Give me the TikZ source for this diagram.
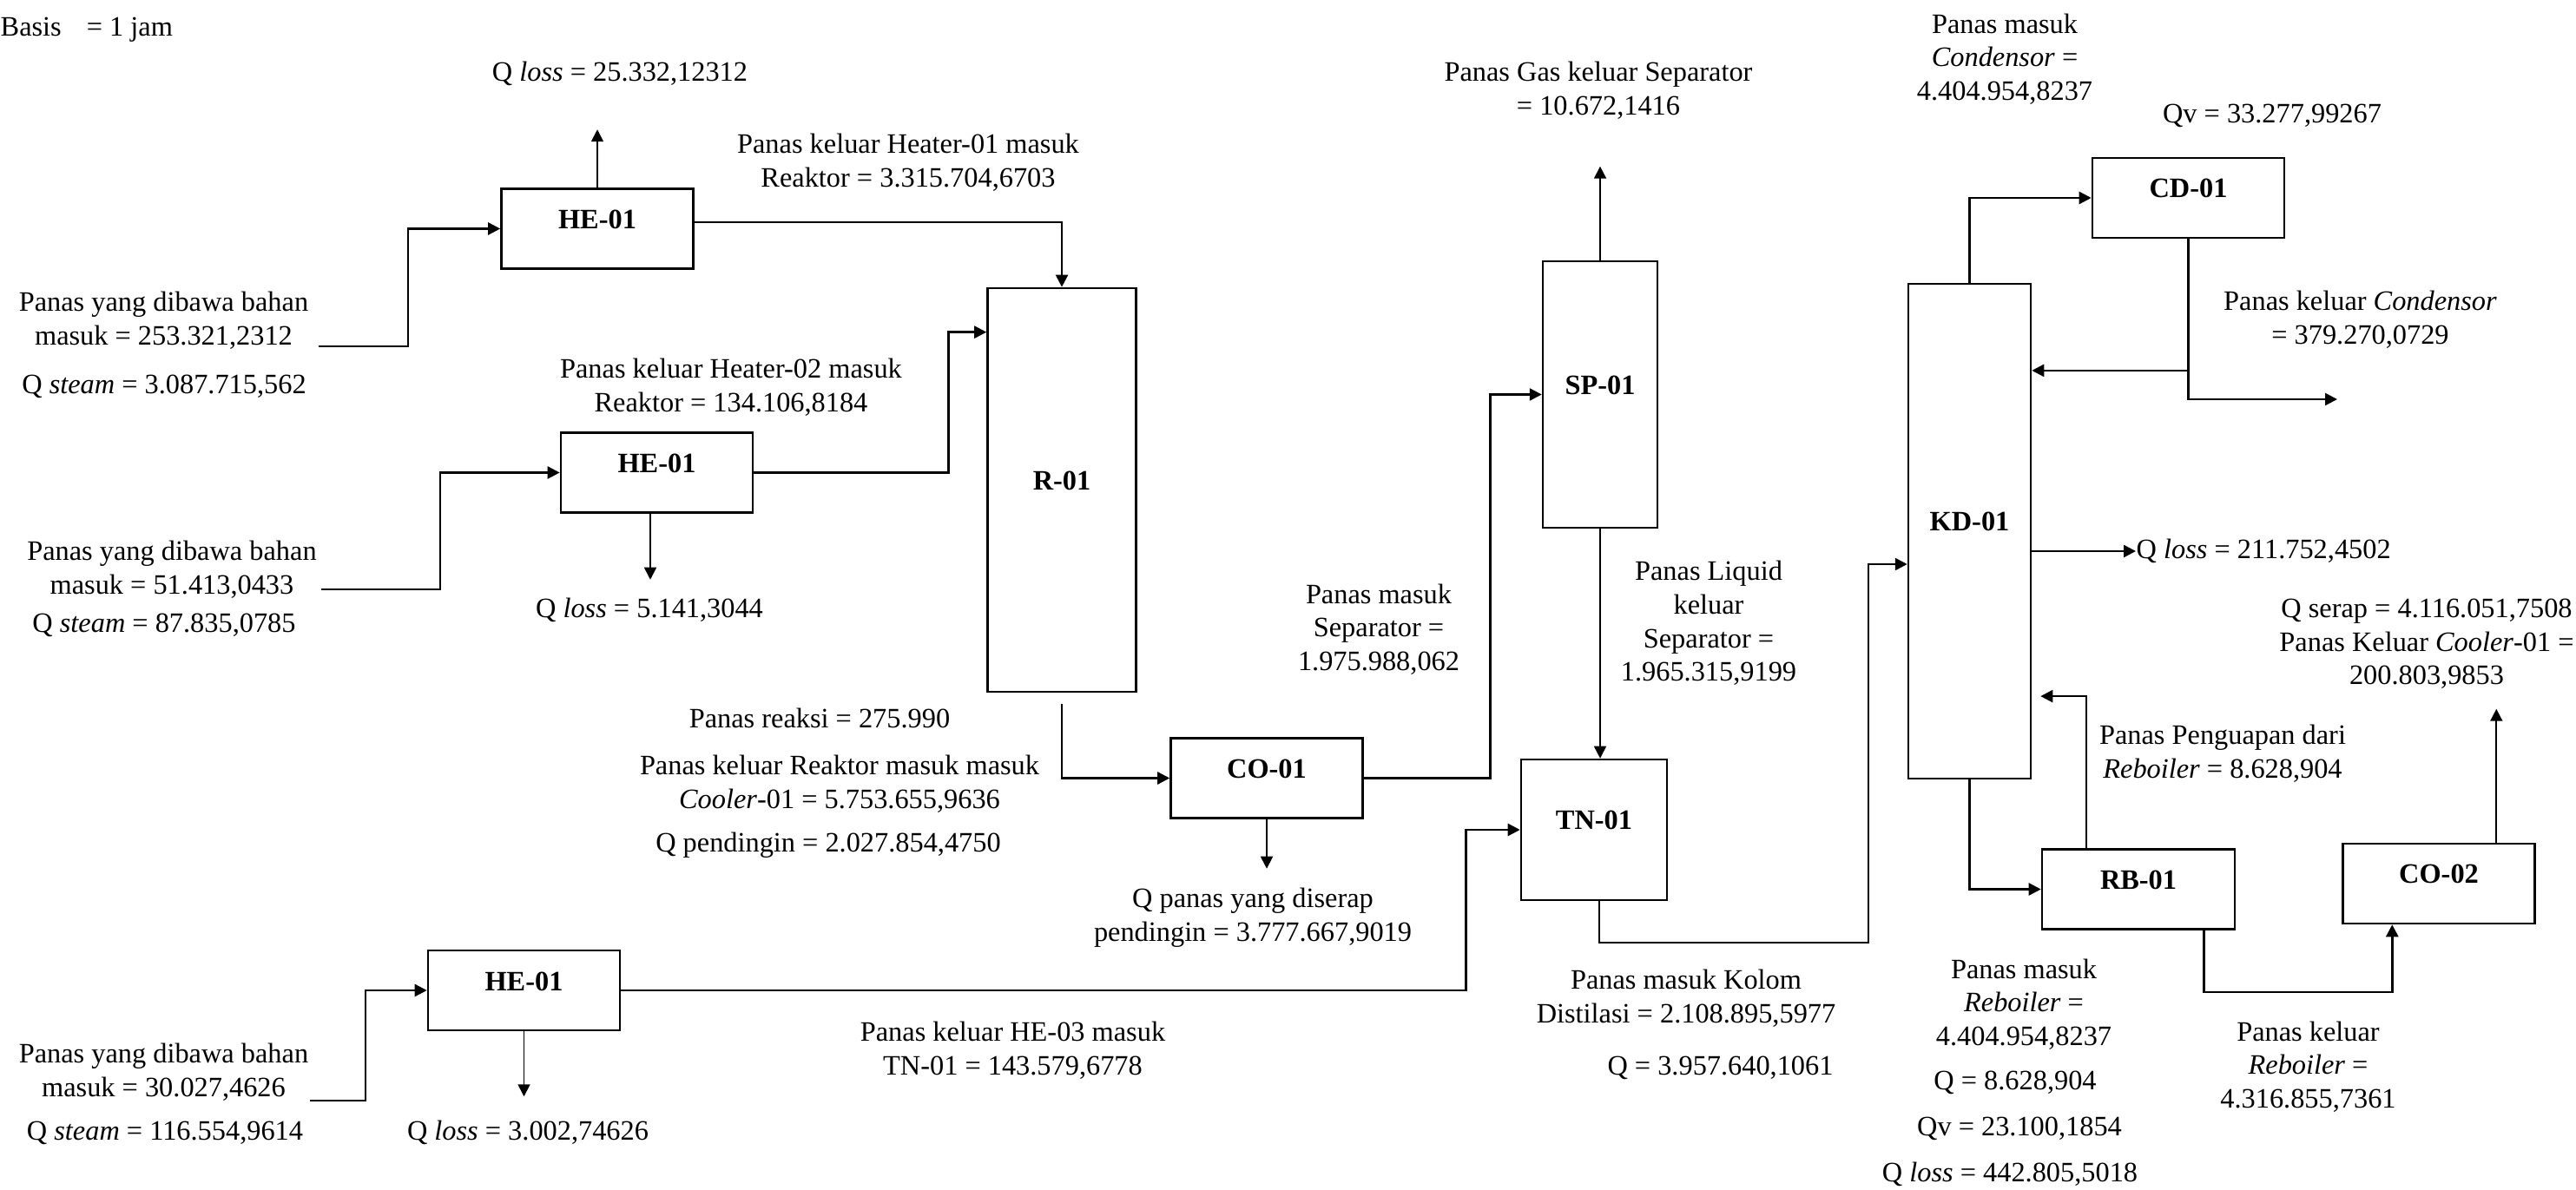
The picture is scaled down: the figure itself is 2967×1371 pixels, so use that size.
\documentclass[tikz,border=0pt]{standalone}
\usepackage{fontspec}
\setmainfont{Liberation Serif}
\usetikzlibrary{arrows.meta}

\begin{document}
\begin{tikzpicture}[
  x=0.01cm, y=-0.01cm,
  font=\fontsize{9.2pt}{11pt}\selectfont,
  >={Triangle[length=0.14cm, width=0.14cm]},
  unit/.style={rectangle, draw, line width=0.7pt, inner sep=0pt, text height=0pt, text depth=0pt, font=\fontsize{9.2pt}{11pt}\selectfont\bfseries},
  smallunit/.style={unit, minimum width=2.21cm, minimum height=0.92cm},
  info/.style={align=center, inner sep=0pt},
  flow/.style={->, line width=0.7pt},
  heat/.style={->, line width=0.5pt}
]
\useasboundingbox (0,0) rectangle (2967,1371);

% unit proses
\node[smallunit] (hea) at (688,263.5) {HE-01};
\node[smallunit] (heb) at (756.5,544.5) {HE-01};
\node[smallunit] (hec) at (603.5,1141) {HE-01};
\node[unit, minimum width=1.71cm, minimum height=4.65cm] (r1) at (1223,564.5) {R-01};
\node[smallunit] (co1) at (1459,896.5) {CO-01};
\node[unit, minimum width=1.32cm, minimum height=3.07cm] (sp1) at (1843,454.5) {SP-01};
\node[unit, minimum width=1.68cm, minimum height=1.62cm] (tn1) at (1836,956) {TN-01};
\node[unit, minimum width=1.41cm, minimum height=5.70cm] (kd1) at (2268.5,612) {KD-01};
\node[smallunit] (cd1) at (2520.5,228) {CD-01};
\node[smallunit, minimum width=2.22cm] (rb1) at (2463,1024.5) {RB-01};
\node[smallunit] (co2) at (2809,1018) {CO-02};

\coordinate (feeda) at (367,399);
\coordinate (feedb) at (370,679);
\coordinate (feedc) at (357,1268);
\coordinate (cdout) at (2692,460);

% keterangan panas
\node[info, anchor=west] (basis) at (0,34) {Basis\hspace{0.29cm}= 1 jam};
\node[info] (qlossa) at (714,85) {Q \textit{loss} = 25.332,12312};
\node[info] (feedtxta) at (188.5,369) {Panas yang dibawa bahan\\masuk = 253.321,2312};
\node[info] (steama) at (189,445) {Q \textit{steam} = 3.087.715,562};
\node[info] (outhea) at (1046,187) {Panas keluar Heater-01 masuk\\Reaktor = 3.315.704,6703};
\node[info] (outheb) at (842,446) {Panas keluar Heater-02 masuk\\Reaktor = 134.106,8184};
\node[info] (feedtxtb) at (198,656) {Panas yang dibawa bahan\\masuk = 51.413,0433};
\node[info] (steamb) at (189,720) {Q \textit{steam} = 87.835,0785};
\node[info] (qlossb) at (748,703) {Q \textit{loss} = 5.141,3044};
\node[info] (reaksi) at (944,828) {Panas reaksi = 275.990};
\node[info] (outr1) at (967,903) {Panas keluar Reaktor masuk masuk\\\textit{Cooler}-01 = 5.753.655,9636};
\node[info] (dingin) at (954,974) {Q pendingin = 2.027.854,4750};
\node[info] (serapco1) at (1443,1057) {Q panas yang diserap\\pendingin = 3.777.667,9019};
\node[info] (insp) at (1588,725) {Panas masuk\\Separator =\\1.975.988,062};
\node[info] (liqsp) at (1968,718) {Panas Liquid\\keluar\\Separator =\\1.965.315,9199};
\node[info] (gassp) at (1841,104) {Panas Gas keluar Separator\\= 10.672,1416};
\node[info] (feedtxtc) at (188.5,1235) {Panas yang dibawa bahan\\masuk = 30.027,4626};
\node[info] (steamc) at (190,1305) {Q \textit{steam} = 116.554,9614};
\node[info] (qlossc) at (608,1305) {Q \textit{loss} = 3.002,74626};
\node[info] (outhec) at (1166.5,1210) {Panas keluar HE-03 masuk\\TN-01 = 143.579,6778};
\node[info] (inkd) at (1942,1150) {Panas masuk Kolom\\Distilasi = 2.108.895,5977};
\node[info] (qkolom) at (1981.5,1230) {Q = 3.957.640,1061};
\node[info] (incd) at (2309,68) {Panas masuk\\\textit{Condensor} =\\4.404.954,8237};
\node[info] (qvcd) at (2617,133) {Qv = 33.277,99267};
\node[info] (outcd) at (2718.5,368) {Panas keluar \textit{Condensor}\\= 379.270,0729};
\node[info, anchor=west] (qkd) at (2460,635) {Q \textit{loss} = 211.752,4502};
\node[info] (outco2) at (2795,742) {Q serap = 4.116.051,7508\\Panas Keluar \textit{Cooler}-01 =\\200.803,9853};
\node[info] (uaprb) at (2560,868) {Panas Penguapan dari\\\textit{Reboiler} = 8.628,904};
\node[info] (inrb) at (2331,1157) {Panas masuk\\\textit{Reboiler} =\\4.404.954,8237};
\node[info] (qrb) at (2321,1247) {Q = 8.628,904};
\node[info] (qvrb) at (2326,1300) {Qv = 23.100,1854};
\node[info] (qlossrb) at (2315,1353) {Q \textit{loss} = 442.805,5018};
\node[info] (outrb) at (2658.5,1229) {Panas keluar\\\textit{Reboiler} =\\4.316.855,7361};

% aliran umpan ke heater
\draw[flow] (feeda) -- ++(103,0) |- (hea.west);
\draw[flow] (feedb) -- ++(137,0) |- (heb.west);
\draw[flow] (feedc) -- ++(64,0) |- (hec.west);
\draw[heat] (hea.north) -- ++(0,-67);
\draw[heat] ([xshift=-0.075cm]heb.south) -- ++(0,76);
\draw[heat] (hec.south) -- ++(0,75);

% heater ke reaktor, reaktor ke cooler
\draw[flow] ([yshift=0.075cm]hea.east) -| (r1.north);
\draw[flow] (heb.east) -- ++(224,0) |- ([yshift=-0.52cm]r1.north west);
\draw[flow] ([yshift=-0.13cm]r1.south) |- (co1.west);
\draw[heat] (co1.south) -- ++(0,57);

% separator dan tangki
\draw[flow] (co1.east) -- ++(145.5,0) |- (sp1.west);
\draw[heat] (sp1.north) -- ++(0,-108);
\draw[heat] (sp1.south) -- (sp1.south |- tn1.north);
\draw[flow] (hec.east) -- ++(973,0) |- (tn1.west);
\draw[flow] ([xshift=0.06cm]tn1.south) |- (2152,1086) |- ([yshift=-0.38cm]kd1.west);

% kolom distilasi, condensor, reboiler
\draw[flow] (kd1.north) |- (cd1.west);
\draw[flow] (cd1.south) |- ([yshift=1.85cm]kd1.east);
\draw[flow] (cd1.south) |- (cdout);
\draw[flow] (kd1.east |- qkd.west) -- (qkd.west);
\draw[flow] (kd1.south) |- (rb1.west);
\draw[flow] ([xshift=0.52cm]rb1.north west) |- ([xshift=0.1cm,yshift=-1.9cm]kd1.east);
\draw[flow] ([xshift=-0.37cm]rb1.south east) -- ++(0,71) -| ([xshift=0.58cm]co2.south west);
\draw[heat] ([xshift=-0.455cm]co2.north east) -- ++(0,-154);
\end{tikzpicture}
\end{document}
